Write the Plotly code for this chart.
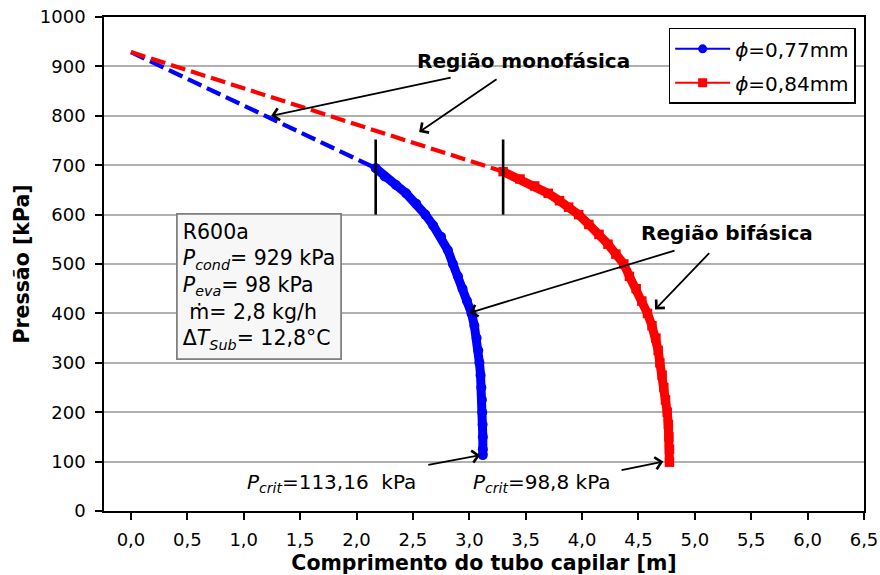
import plotly.graph_objects as go

# Capillary tube pressure profile for R600a, two tube diameters
# Single-phase (liquid) region: straight pressure drop from condenser pressure
mono_L_077 = [0.0, 2.17]
mono_P_077 = [929, 694]
mono_L_084 = [0.0, 3.30]
mono_P_084 = [929, 687]

# Two-phase region (length [m], pressure [kPa])
bif_L_077 = [2.17, 2.25, 2.35, 2.44, 2.53, 2.61, 2.68, 2.75, 2.81, 2.855, 2.90, 2.94,
             2.98, 3.02, 3.045, 3.065, 3.08, 3.09, 3.10, 3.107, 3.112, 3.115, 3.118,
             3.12, 3.12, 3.12]
bif_P_077 = [694, 677, 660, 643, 622, 600, 578, 555, 528, 500, 475, 450,
             425, 400, 375, 350, 325, 300, 275, 250, 225, 200, 175,
             150, 125, 113.16]

bif_L_084 = [3.30, 3.45, 3.58, 3.70, 3.80, 3.88, 3.97, 4.06, 4.15, 4.23, 4.30, 4.37,
             4.42, 4.48, 4.53, 4.58, 4.62, 4.655, 4.675, 4.69, 4.71, 4.725, 4.74,
             4.755, 4.765, 4.77, 4.775, 4.775]
bif_P_084 = [687, 672, 658, 643, 628, 615, 600, 580, 560, 540, 520, 500,
             475, 450, 425, 400, 375, 350, 325, 300, 275, 250, 225,
             200, 175, 150, 125, 98.8]

# Vertical bar marking the phase transition
transition_span = [600, 752]

x_ticks = [0.0, 0.5, 1.0, 1.5, 2.0, 2.5, 3.0, 3.5, 4.0, 4.5, 5.0, 5.5, 6.0, 6.5]
y_ticks = [0, 100, 200, 300, 400, 500, 600, 700, 800, 900, 1000]

BLUE = "#0000ff"
RED = "#ff0000"
FONT = "DejaVu Sans"
TXT = 20

fig = go.Figure()

# dashed single-phase segments
for L, P, c in [(mono_L_077, mono_P_077, BLUE), (mono_L_084, mono_P_084, RED)]:
    fig.add_trace(go.Scatter(x=L, y=P, mode="lines", showlegend=False, hoverinfo="skip",
                             line=dict(color=c, width=4.2, dash="15px,6px")))

# two-phase segments (dense markers drawn as a thick band)
fig.add_trace(go.Scatter(x=bif_L_077, y=bif_P_077, mode="lines+markers", showlegend=False,
                         line=dict(color=BLUE, width=9),
                         marker=dict(symbol="circle", size=10, color=BLUE)))
fig.add_trace(go.Scatter(x=bif_L_084, y=bif_P_084, mode="lines+markers", showlegend=False,
                         line=dict(color=RED, width=9),
                         marker=dict(symbol="square", size=9.5, color=RED)))

# legend entries
fig.add_trace(go.Scatter(x=[None], y=[None], mode="lines+markers", name="<i>ϕ</i>=0,77mm",
                         legendgroup="a", line=dict(color=BLUE, width=2),
                         marker=dict(symbol="circle", size=9, color=BLUE)))
fig.add_trace(go.Scatter(x=[None], y=[None], mode="lines+markers", name="<i>ϕ</i>=0,84mm",
                         legendgroup="b", line=dict(color=RED, width=2),
                         marker=dict(symbol="square", size=9, color=RED)))

# phase transition bars
for xt in (bif_L_077[0], bif_L_084[0]):
    fig.add_trace(go.Scatter(x=[xt, xt], y=transition_span, mode="lines", showlegend=False,
                             hoverinfo="skip", line=dict(color="black", width=2.6)))

annotations = []

def arrow(tail, head):
    annotations.append(dict(x=head[0], y=head[1], ax=tail[0], ay=tail[1],
                            xref="x", yref="y", axref="x", ayref="y", text="",
                            showarrow=True, arrowhead=4, arrowsize=1.3, arrowwidth=1.8,
                            arrowcolor="black"))

def label(x, y, text, size=TXT, bold=False):
    annotations.append(dict(x=x, y=y, xref="x", yref="y", text=text, showarrow=False,
                            font=dict(family=FONT, size=size, color="black",
                                      weight="bold" if bold else "normal"),
                            xanchor="center", yanchor="middle"))

label(3.477, 911, "Região monofásica", bold=True)
arrow((2.848, 878), (1.243, 800))
arrow((3.255, 876), (2.555, 767))

label(5.285, 563, "Região bifásica", bold=True)
arrow((4.833, 528), (3.0, 401))
arrow((5.14, 525), (4.647, 408))

label(1.78, 56, "<i>P<sub>crit</sub></i>=113,16\u00a0\u00a0kPa")
arrow((2.623, 93), (3.096, 113))
label(3.643, 56, "<i>P<sub>crit</sub></i>=98,8 kPa")
arrow((4.337, 82), (4.72, 100))

# operating conditions box
annotations.append(dict(
    x=0.40, y=603, xref="x", yref="y", xanchor="left", yanchor="top", align="left",
    showarrow=False,
    text=("R600a<br><i>P<sub>cond</sub></i>= 929 kPa<br><i>P<sub>eva</sub></i>= 98 kPa"
          "<br>\u00a0ṁ= 2,8 kg/h<br>Δ<i>T<sub>Sub</sub></i>= 12,8°C"),
    font=dict(family=FONT, size=20.5, color="black"),
    bgcolor="#f7f7f7", bordercolor="#808080", borderwidth=1.8, borderpad=5))

fig.update_layout(
    width=880, height=575,
    margin=dict(l=104, r=16, t=17, b=64),
    paper_bgcolor="white", plot_bgcolor="white",
    separators=",.",
    font=dict(family=FONT, size=18, color="black"),
    showlegend=True,
    legend=dict(x=0.989, y=0.978, xanchor="right", yanchor="top",
                bgcolor="white", bordercolor="black", borderwidth=1.5,
                font=dict(family=FONT, size=20), traceorder="grouped",
                tracegroupgap=5, itemwidth=55),
    annotations=annotations,
)

fig.update_xaxes(range=[-0.239, 6.5], tickvals=x_ticks, tickformat=".1f",
                 showgrid=False, zeroline=False, showline=True, linecolor="black",
                 linewidth=1.5, mirror=True, ticks="outside", ticklen=7, tickwidth=1.5,
                 tickcolor="black", tickfont=dict(size=18), ticklabelstandoff=5,
                 automargin=False,
                 title=dict(text="Comprimento do tubo capilar [m]", standoff=16,
                            font=dict(family=FONT, size=20.5, weight="bold")))
fig.update_yaxes(range=[0, 1000], tickvals=y_ticks, showgrid=True, gridcolor="#b0b0b0",
                 gridwidth=1.5, zeroline=False, showline=True, linecolor="black",
                 linewidth=1.5, mirror=True, ticks="outside", ticklen=7, tickwidth=1.5,
                 tickcolor="black", tickfont=dict(size=18), ticklabelstandoff=6,
                 automargin=False,
                 title=dict(text="Pressão [kPa]", standoff=5,
                            font=dict(family=FONT, size=20.5, weight="bold")))

fig.write_html("out.html")
